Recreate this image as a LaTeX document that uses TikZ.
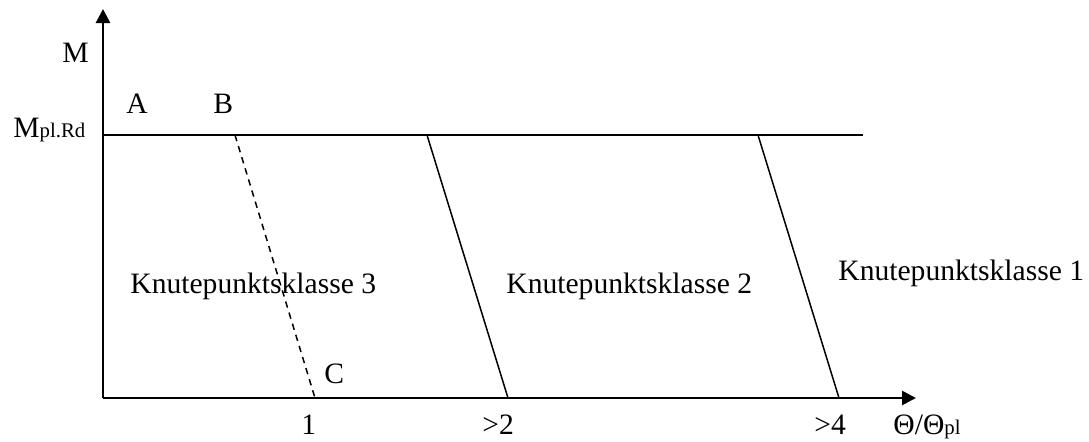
\documentclass[tikz,border=0pt]{standalone}
\usepackage{fontspec}
\setmainfont{Liberation Serif}
\usepackage{tikz}
\usetikzlibrary{arrows.meta,positioning,calc}
\newcommand{\sml}[1]{{\fontsize{10.4}{12}\selectfont #1}}

\begin{document}
\begin{tikzpicture}[x=0.5pt,y=-0.5pt,
    txt/.style={anchor=base west,inner sep=0pt,font=\fontsize{14.8}{17}\selectfont},
    axis/.style={line width=1.35pt,-{Triangle[length=7pt,width=7pt]}},
    bound/.style={line width=0.75pt},
    scale=1]
            \useasboundingbox (0,0) rectangle (1089,441);

            \coordinate (o) at (103,398);
            \coordinate (ytip) at (103,9);
            \coordinate (xtip) at (916,398);
            \coordinate (m0) at (103,135);
            \coordinate (m1) at (863,135);
            \coordinate (b) at (235,135);
            \coordinate (c) at (315,398);
            \coordinate (t2) at (427,135);
            \coordinate (f2) at (508,398);
            \coordinate (t1) at (758,135);
            \coordinate (f1) at (839,398);

            \draw[axis] (o) -- (ytip);
            \draw[axis] (o) -- (xtip);
            \draw[bound] (m0) -- (m1);
            \draw[bound,dash pattern=on 3.2pt off 2.6pt] (b) -- (c);
            \draw[bound] (t2) -- (f2);
            \draw[bound] (t1) -- (f1);

            \node[txt] (lM) at (62,62) {M};
            \node[txt] (lMpl) at (13,137) {M\sml{pl.Rd}};
            \node[txt] (lA) at (126,113) {A};
            \node[txt] (lB) at (213,113) {B};
            \node[txt] (lC) at (324,383) {C};
            \node[txt] (k3) at (130,293) {Knutepunktsklasse 3};
            \node[txt] (k2) at (506,293) {Knutepunktsklasse 2};
            \node[txt] (k1) at (838,280) {Knutepunktsklasse 1};
            \node[txt] (x1) at (301,434) {1};
            \node[txt] (x2) at (482,434) {>2};
            \node[txt] (x4) at (814,434) {>4};
            \node[txt] (xlab) at (893,434) {Θ/Θ\sml{pl}};
          \end{tikzpicture}
\end{document}
